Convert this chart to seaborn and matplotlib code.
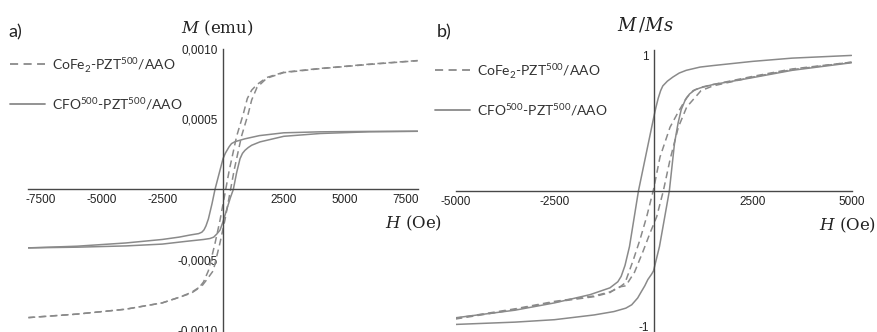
import numpy as np
import pandas as pd
import matplotlib
matplotlib.use("Agg")
import matplotlib.pyplot as plt
from matplotlib.lines import Line2D
import seaborn as sns

# ---- data ----
# panel a) M (emu, x1e-4) vs H (Oe)
a_cfo_desc_H = [8000, 6000, 4000, 2500, 1500, 900, 500, 350, 250, 100, 0, -150, -330, -450, -600, -700, -780, -870, -1000, -1350, -1800, -2500, -4000, -6000, -8000]
a_cfo_desc_M = [4.16, 4.15, 4.12, 4.05, 3.85, 3.62, 3.42, 3.28, 3.05, 2.6, 2.2, 1.2, 0.0, -1.0, -2.1, -2.6, -2.88, -3.05, -3.15, -3.25, -3.4, -3.57, -3.82, -4.05, -4.17]
a_cfo_asc_H = [-8000, -6000, -4000, -2500, -1500, -800, -534, -380, -250, -123, 0, 150, 300, 424, 560, 700, 800, 904, 1040, 1178, 1520, 2500, 4000, 6000, 8000]
a_cfo_asc_M = [-4.17, -4.12, -4.03, -3.9, -3.7, -3.57, -3.5, -3.4, -3.17, -2.9, -2.3, -1.45, -0.6, 0.0, 1.2, 2.2, 2.58, 2.8, 3.0, 3.16, 3.4, 3.8, 4.0, 4.12, 4.16]

a_cofe_desc_H = [8000, 6000, 4000, 2500, 1800, 1400, 1180, 1000, 835, 560, 260, -123, -330, -600, -800, -1000, -1300, -1800, -2500, -4000, -6000, -8000]
a_cofe_desc_M = [9.21, 8.95, 8.65, 8.38, 8.0, 7.5, 7.1, 6.5, 5.4, 3.8, 1.4, -2.2, -3.86, -5.8, -6.6, -7.05, -7.4, -7.7, -8.1, -8.55, -8.9, -9.15]
a_cofe_asc_H = [-8000, -6000, -4000, -2500, -1800, -1300, -1080, -850, -650, -400, -130, 77, 460, 760, 1035, 1180, 1400, 1800, 2500, 4000, 6000, 8000]
a_cofe_asc_M = [-9.15, -8.9, -8.55, -8.1, -7.7, -7.35, -7.1, -6.85, -6.4, -5.8, -3.86, -2.2, 1.4, 3.8, 5.4, 6.4, 7.3, 7.95, 8.35, 8.63, 8.93, 9.2]

# panel b) M/Ms vs H (Oe)
b_cfo_desc_H = [5000, 3500, 2500, 1500, 1176, 826, 650, 487, 350, 235, 180, 120, 60, 0, -380, -606, -720, -816, -900, -1100, -1600, -2500, -3500, -5000]
b_cfo_desc_M = [1.0, 0.98, 0.956, 0.925, 0.914, 0.89, 0.87, 0.84, 0.81, 0.775, 0.74, 0.685, 0.615, 0.535, 0.0, -0.41, -0.55, -0.63, -0.67, -0.715, -0.765, -0.826, -0.88, -0.936]
b_cfo_asc_H = [-5000, -3500, -2500, -1500, -1000, -700, -550, -400, -311, -220, -143, -50, 0, 151, 400, 530, 620, 700, 800, 909, 1040, 1176, 1500, 2000, 2500, 3500, 5000]
b_cfo_asc_M = [-0.985, -0.968, -0.95, -0.915, -0.89, -0.865, -0.84, -0.79, -0.745, -0.70, -0.654, -0.615, -0.59, -0.41, 0.0, 0.35, 0.5, 0.6, 0.67, 0.715, 0.745, 0.76, 0.785, 0.81, 0.836, 0.89, 0.946]

b_cofe_desc_H = [5000, 3500, 2500, 1500, 1200, 1000, 840, 620, 417, 164, 0, -172, -342, -511, -721, -900, -1100, -1500, -2500, -3500, -5000]
b_cofe_desc_M = [0.95, 0.9, 0.845, 0.785, 0.765, 0.74, 0.69, 0.58, 0.47, 0.25, 0.01, -0.19, -0.36, -0.51, -0.68, -0.72, -0.745, -0.775, -0.815, -0.87, -0.94]
b_cofe_asc_H = [-5000, -3500, -2500, -1500, -1100, -900, -700, -480, -270, -100, 81, 248, 417, 627, 840, 1050, 1200, 1500, 2500, 3500, 5000]
b_cofe_asc_M = [-0.945, -0.875, -0.82, -0.78, -0.75, -0.71, -0.7, -0.6, -0.45, -0.32, -0.19, 0.0, 0.23, 0.47, 0.62, 0.69, 0.74, 0.775, 0.84, 0.895, 0.95]

a_xticks = [-7500, -5000, -2500, 0, 2500, 5000, 7500]
a_xlabels = ["-7500", "-5000", "-2500", "", "2500", "5000", "7500"]
a_yticks = [-0.0010, -0.0005, 0.0005, 0.0010]
a_ylabels = ["-0,0010", "-0,0005", "0,0005", "0,0010"]
b_xticks = [-5000, -2500, 0, 2500, 5000]
b_xlabels = ["-5000", "-2500", "", "2500", "5000"]
b_yticks = [-1, 1]
b_ylabels = ["-1", "1"]

leg_cofe = r"CoFe$_\mathregular{2}$-PZT$^\mathregular{500}$/AAO"
leg_cfo = r"CFO$^\mathregular{500}$-PZT$^\mathregular{500}$/AAO"

# ---- style ----
sns.set_style("white")
plt.rcParams["font.family"] = ["Liberation Sans", "DejaVu Sans"]
plt.rcParams["mathtext.fontset"] = "dejavuserif"

W, H = 877, 332
curve = "#8a8a8a"
axcol = "#484848"
dash = (0, (4.5, 2.8))

def fx(px):
    return px / W

def fy(py):
    return 1 - py / H

fig = plt.figure(figsize=(W / 100, H / 100), dpi=100)

# axes placed so that the data scales match the reference pixels
ax_a = fig.add_axes([fx(28.4), fy(336.5), (417.6 - 28.4) / W, (336.5 - 49.5) / H])
ax_b = fig.add_axes([fx(455.5), fy(334.6), (851.5 - 455.5) / W, (334.6 - 50) / H])


def loop(ax, h, m, scale, ls):
    df = pd.DataFrame({"H": h, "M": np.array(m) * scale})
    sns.lineplot(data=df, x="H", y="M", sort=False, estimator=None, ax=ax,
                 color=curve, lw=1.1, linestyle=ls)


loop(ax_a, a_cofe_desc_H, a_cofe_desc_M, 1e-4, dash)
loop(ax_a, a_cofe_asc_H, a_cofe_asc_M, 1e-4, dash)
loop(ax_a, a_cfo_desc_H, a_cfo_desc_M, 1e-4, "-")
loop(ax_a, a_cfo_asc_H, a_cfo_asc_M, 1e-4, "-")

loop(ax_b, b_cofe_desc_H, b_cofe_desc_M, 1, dash)
loop(ax_b, b_cofe_asc_H, b_cofe_asc_M, 1, dash)
loop(ax_b, b_cfo_desc_H, b_cfo_desc_M, 1, "-")
loop(ax_b, b_cfo_asc_H, b_cfo_asc_M, 1, "-")

ax_a.set_xlim(-8000, 8000)
ax_a.set_ylim(-0.00105, 0.0010)
ax_b.set_xlim(-5000, 5000)
ax_b.set_ylim(-1.06, 1.04)

for ax, xt, xl, yt, yl in [(ax_a, a_xticks, a_xlabels, a_yticks, a_ylabels),
                           (ax_b, b_xticks, b_xlabels, b_yticks, b_ylabels)]:
    ax.set_facecolor("none")
    ax.patch.set_alpha(0)
    for s in ["top", "right"]:
        ax.spines[s].set_visible(False)
    for s in ["left", "bottom"]:
        ax.spines[s].set_position(("data", 0))
        ax.spines[s].set_color(axcol)
        ax.spines[s].set_linewidth(1.0)
    ax.set_xticks(xt)
    ax.set_xticklabels(xl)
    ax.set_yticks(yt)
    ax.set_yticklabels(yl)
    ax.tick_params(direction="inout", length=5, width=0.8, color=axcol,
                   labelsize=8.5, labelcolor="#222222", pad=1)
    ax.set_xlabel("")
    ax.set_ylabel("")
    ax.grid(False)

# axis titles
fig.text(fx(217), fy(28), r"$M$ (emu)", family="DejaVu Serif", fontsize=12,
         ha="center", va="center", color="#222222")
fig.text(fx(414), fy(223), r"$H$ (Oe)", family="DejaVu Serif", fontsize=12,
         ha="center", va="center", color="#222222")
fig.text(fx(645), fy(25), r"$M\,/Ms$", family="DejaVu Serif", fontsize=13,
         ha="center", va="center", color="#222222")
fig.text(fx(848), fy(225), r"$H$ (Oe)", family="DejaVu Serif", fontsize=12,
         ha="center", va="center", color="#222222")

# panel letters
fig.text(fx(8), fy(32), "a)", family="Lato", fontsize=13, va="center", color="#222222")
fig.text(fx(437), fy(32), "b)", family="Lato", fontsize=13, va="center", color="#222222")

# legends
for x0, y_d, y_s in [(10, 64, 104), (435, 70, 110)]:
    fig.add_artist(Line2D([fx(x0), fx(x0 + 35)], [fy(y_d), fy(y_d)], color=curve,
                          lw=1.3, linestyle=(0, (4.5, 3)), transform=fig.transFigure))
    fig.add_artist(Line2D([fx(x0), fx(x0 + 35)], [fy(y_s), fy(y_s)], color=curve,
                          lw=1.3, transform=fig.transFigure))
    fig.text(fx(x0 + 42), fy(y_d), leg_cofe, family="Lato", fontsize=10,
             va="center", color="#333333")
    fig.text(fx(x0 + 42), fy(y_s), leg_cfo, family="Lato", fontsize=10,
             va="center", color="#333333")

fig.savefig("out.png", dpi=100)
